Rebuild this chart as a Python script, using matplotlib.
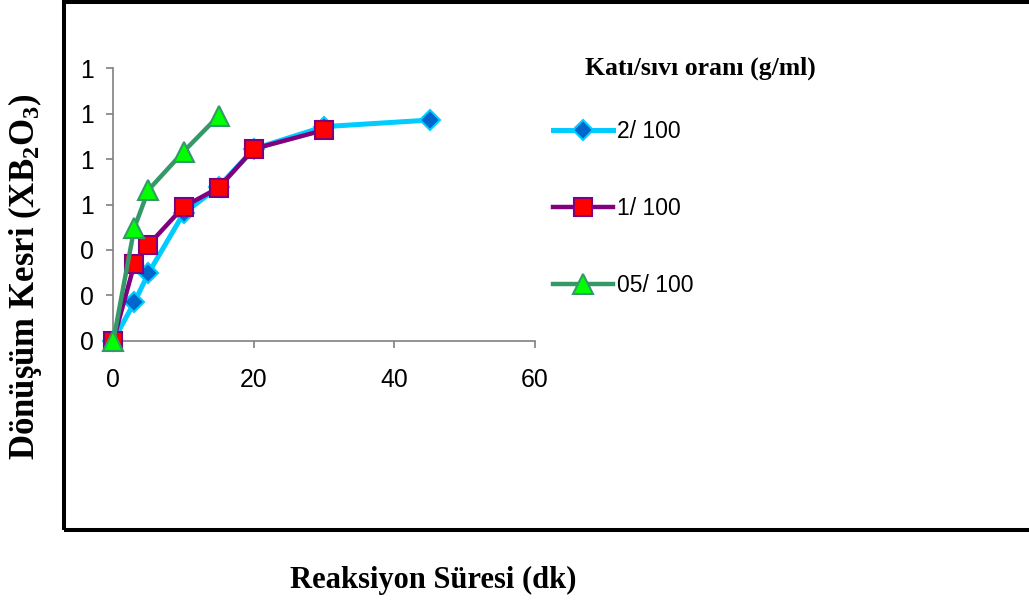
import numpy as np
import matplotlib.pyplot as plt
from matplotlib.patches import Rectangle
from matplotlib.ticker import FuncFormatter

plt.rcParams['font.family'] = ['Liberation Sans', 'DejaVu Sans']
plt.rcParams['mathtext.fontset'] = 'custom'
plt.rcParams['mathtext.rm'] = 'Liberation Serif:bold'
plt.rcParams['mathtext.it'] = 'Liberation Serif:bold'
plt.rcParams['mathtext.bf'] = 'Liberation Serif:bold'

# Reaksiyon suresi (dk) ve donusum kesri
t_2 = [0, 3, 5, 10, 15, 20, 30, 45]
x_2 = [0, 0.169, 0.297, 0.561, 0.679, 0.845, 0.943, 0.972]

t_1 = [0, 3, 5, 10, 15, 20, 30]
x_1 = [0, 0.338, 0.422, 0.590, 0.674, 0.845, 0.928]

t_05 = [0, 3, 5, 10, 15]
x_05 = [0, 0.498, 0.664, 0.833, 0.991]

labels = ["2/ 100", "1/ 100", "05/ 100"]

W, H = 1029, 608
fig = plt.figure(figsize=(W/100, H/100), dpi=100)
ax = fig.add_axes([113.3/W, 1-340.7/H, (535-113.3)/W, (340.7-68.3)/H])

h1, = ax.plot(t_2, x_2, color='#00CCFF', lw=3.6, marker='D', ms=10.5,
              mfc='#0066CC', mec='#00CCFF', mew=1.5, clip_on=False, zorder=3)
h2, = ax.plot(t_1, x_1, color='#800080', lw=3.2, marker='s', ms=13,
              mfc='#FF0000', mec='#800080', mew=1.5, clip_on=False, zorder=4)
h3, = ax.plot(t_05, x_05, color='#339966', lw=3.2, marker='^', ms=15,
              mfc='#00FF00', mec='#339966', mew=1.5, clip_on=False, zorder=5)

ax.set_xlim(0, 60)
ax.set_ylim(0, 1.2)
ax.set_xticks([0, 20, 40, 60])
ax.set_yticks(np.arange(0, 1.21, 0.2))
ax.yaxis.set_major_formatter(FuncFormatter(lambda v, p: "%.0f" % v))
for s in ['top', 'right']:
    ax.spines[s].set_visible(False)
for s in ['left', 'bottom']:
    ax.spines[s].set_color('#808080')
    ax.spines[s].set_linewidth(1.2)
ax.tick_params(axis='both', colors='#808080', labelcolor='black',
               labelsize=17.8, length=5, width=1.2)
ax.tick_params(axis='x', pad=15)
ax.tick_params(axis='y', pad=9)

fig.legend([h1, h2, h3], labels, loc='upper left',
           bbox_to_anchor=(553/W, 1-120/H), frameon=False, fontsize=16.5,
           handlelength=2.6, handletextpad=0.2, labelspacing=2.35,
           borderpad=0, borderaxespad=0)
fig.text(700/W, 1-68/H, "Katı/sıvı oranı (g/ml)", family='Liberation Serif',
         weight='bold', fontsize=18.5, ha='center', va='center')

fig.text(433/W, 1-580/H, "Reaksiyon Süresi (dk)", family='Liberation Serif',
         weight='bold', fontsize=22, ha='center', va='center')
fig.text(25/W, 1-277/H, r"Dönüşüm Kesri (XB$_2$O$_3$)", family='Liberation Serif',
         weight='bold', fontsize=25, ha='center', va='center', rotation=90)

# cerceve
fig.patches.append(Rectangle((64/W, 1-530/H), 1.2, (530-1.5)/H, fill=False,
                             edgecolor='black', lw=2.9, transform=fig.transFigure,
                             clip_on=False))

plt.savefig("out.png", dpi=100)
